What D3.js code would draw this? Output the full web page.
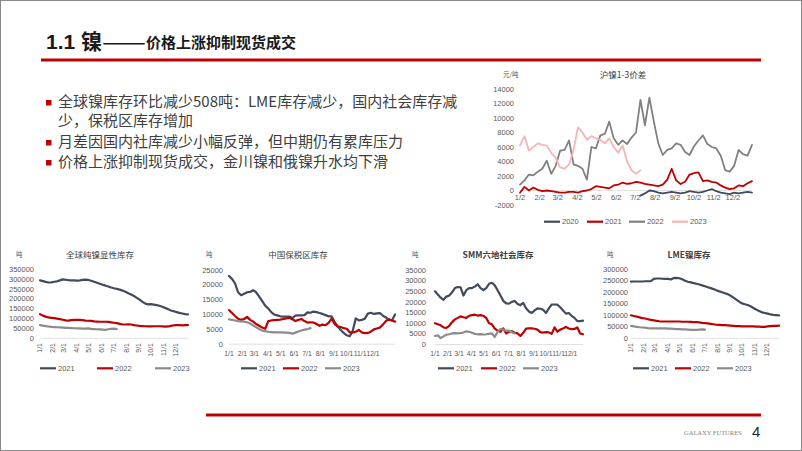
<!DOCTYPE html>
<html><head><meta charset="utf-8">
<script src="https://cdn.jsdelivr.net/npm/d3@7"></script>
<style>body{margin:0;background:#fff}svg{display:block}</style>
</head><body><svg id="c" width="802" height="451"></svg>
<script>
// ---------------- DATA ----------------
const titleMain = "1.1 镍";
const titleSub = "价格上涨抑制现货成交";
const bulletLines = [
  ["全球镍库存环比减少508吨：LME库存减少，国内社会库存减", true],
  ["少，保税区库存增加", false],
  ["月差因国内社库减少小幅反弹，但中期仍有累库压力", true],
  ["价格上涨抑制现货成交，金川镍和俄镍升水均下滑", true]
];
const years4 = ["2020", "2021", "2022", "2023"];
const years3 = ["2021", "2022", "2023"];
const spreadMonths = ["1/2","2/2","3/2","4/2","5/2","6/2","7/2","8/2","9/2","10/2","11/2","12/2"];
const invMonths = ["1/1","2/1","3/1","4/1","5/1","6/1","7/1","8/1","9/1","10/1","11/1","12/1"];

// 沪镍1-3价差 (weekly, 元/吨)
const spread2020 = [null,null,null,null,null,null,null,null,null,null,null,null,null,null,null,null,null,null,null,null,null,null,null,null,null,null,null,
  -700,-400,0,-100,-300,-400,-300,-200,-300,-400,-300,-100,-200,-300,-200,0,200,-100,-300,-400,-500,-300,-400,-300,-200,-300];
const spread2021 = [-300,500,0,400,100,-100,0,-100,-200,-300,-300,-200,-200,-300,-100,0,200,600,500,400,300,700,800,1100,900,1000,1200,1100,900,800,700,600,800,1500,3000,1400,900,1200,2200,2400,2500,1300,1400,1200,1100,700,400,200,300,700,600,1000,1300];
const spread2022 = [800,1400,2200,2100,2600,3000,4100,2300,3400,5500,5600,6900,3600,3400,3000,1500,6000,5800,7600,7800,9500,7200,6300,6900,6400,7300,8000,12500,9000,12800,9500,6500,4900,5600,5800,6500,6300,5300,4900,6100,6900,7600,6400,6000,5800,4800,2800,2600,3400,5600,5000,4800,6300];
const spread2023 = [6200,7500,5500,6000,6500,6300,6200,5200,4500,3200,3000,3600,5600,8700,8000,7000,7500,7200,7000,6500,7200,6000,5200,6200,4000,2800,2300,2800];

// 全球纯镍显性库存 (weekly, 吨)
const global2021 = [294000,290000,286000,283000,284000,287000,289000,294000,299000,297000,295000,294000,294000,293000,294000,296000,298000,296000,292000,287000,282000,277000,272000,267000,263000,258000,254000,251000,247000,242000,236000,229000,222000,215000,205000,196000,185000,176000,172000,173000,171000,168000,165000,160000,154000,148000,141000,137000,133000,129000,126000,123000,121000];
const global2022 = [122000,115000,110000,106000,104000,102000,100000,97000,94000,91000,90000,92000,93000,94000,93000,92000,90000,89000,88000,86000,85000,84000,84000,84000,83000,81000,79000,77000,73000,70000,70000,71000,70000,67000,65000,63000,62000,61000,60000,60000,61000,61000,61000,60000,59000,60000,63000,66000,67000,67000,66000,67000,67000];
const global2023 = [67000,64000,62000,60000,58000,57000,56000,55000,54000,53000,53000,52000,51000,50000,50000,49000,49000,50000,48000,47000,46000,45000,44000,43000,46000,48000,49000,47000];

// 中国保税区库存 (weekly, 吨)
const bonded2021 = [23000,22000,20500,17500,16500,17000,17500,17600,18200,17500,16000,14500,13000,12000,10800,10000,9700,9400,9300,9300,9300,8800,9600,9700,9700,9800,10700,10600,11000,10800,10500,10200,9800,9400,9400,7500,6000,4800,3800,3000,2700,4500,8700,8000,8200,8600,10300,10600,10200,10400,10500,9600,9000,8200,8000,10000];
const bonded2022 = [11500,10500,9500,8600,8200,8500,9200,8200,7600,6800,6200,5600,5200,7800,8000,8100,8200,8300,8500,8700,8900,8400,7800,8200,8500,7800,7300,7400,7300,6800,6200,6600,6400,7200,8600,6800,6000,5800,5400,5200,4000,4000,4200,4800,4000,3700,3800,4200,5000,5300,5600,6600,7800,8400,8000,7600];
const bonded2023 = [8400,8200,8000,7800,7700,7600,7400,7000,6300,5700,5100,4600,4400,4200,4100,4000,4000,4000,3900,3900,3800,3500,3900,4300,4600,4900,5100,5400];

// SMM六地社会库存 (weekly, 吨)
const smm2021 = [25000,23500,22000,21000,22500,23000,24500,26500,27000,26800,23000,25500,26500,26500,27200,28300,26500,25600,26500,28500,29000,27800,25500,23000,20500,19300,19200,20000,20500,19000,18500,19500,17000,15500,14800,16000,17000,16800,16300,14800,17000,18800,18800,18700,17500,16000,14500,14800,13500,12500,11000,11000,11200];
const smm2022 = [10000,9500,9000,8000,7800,8800,10500,11800,12500,13200,12800,12500,13500,13800,14000,13600,13800,13500,12500,10000,9500,7500,6500,6000,7600,5200,6000,6200,5500,5200,4000,5500,7500,7600,7600,7400,7000,5800,5600,5800,5700,5000,8000,6000,7000,7500,8300,7500,7200,7300,8000,5200,4800];
const smm2023 = [4000,4300,3000,3800,4600,4800,5200,5300,5200,5400,5600,6200,6000,5500,5000,4800,4900,4700,4800,5000,5200,3500,6000,7300,7000,6500,6500,5800,5200];

// LME镍库存 (weekly, 吨)
const lme2021 = [246000,247000,247000,247000,247000,248000,248000,249000,258000,260000,260000,259000,258000,258000,256000,262000,263000,261000,257000,250000,246000,243000,240000,237000,234000,230000,226000,222000,218000,214000,209000,204000,200000,196000,192000,185000,177000,168000,159000,152000,148000,145000,139000,132000,125000,119000,113000,110000,107000,104000,102000,101000,100000];
const lme2022 = [100000,97000,94000,91000,88000,86000,83000,80000,78000,76000,74000,73000,73000,73000,73000,73000,73000,73000,72000,72000,72000,71000,70000,70000,69000,67000,66000,65000,63000,61000,59000,58000,57000,57000,56000,55000,54000,53000,53000,52000,52000,52000,52000,52000,51000,51000,50000,50000,52000,53000,54000,54000,55000];
const lme2023 = [54000,52000,50000,48000,47000,46000,44000,43000,43000,43000,43000,43000,43000,42000,42000,41000,40000,40000,39000,39000,38000,37000,37000,37000,38000,39000,38000];

// ---------------- DRAWING ----------------
const svg = d3.select("#c");
const RED = "#c00000", DARK = "#414b5b", GRAY = "#8c8c8c", GRAY22 = "#808080", PINK = "#f6b4b6";
const SANS = "'Liberation Sans', Arial, 'Noto Sans CJK SC', sans-serif";
const CJK = "'Noto Sans CJK SC', 'Liberation Sans', sans-serif";
const LBL = "#595959";

svg.append("rect").attr("x",0.5).attr("y",0.5).attr("width",801).attr("height",450)
  .attr("fill","#fff").attr("stroke","#8a8a8a").attr("stroke-width",1);

// Title
svg.append("text").attr("x",46).attr("y",49).attr("font-family",SANS).attr("font-weight","bold")
  .attr("font-size",21).attr("fill","#1a1a1a").text(titleMain);
svg.append("text").attr("x",102).attr("y",48).attr("font-family",CJK).attr("font-weight","bold")
  .attr("font-size",15).attr("fill","#1a1a1a").attr("textLength",44).attr("lengthAdjust","spacingAndGlyphs").text("——");
svg.append("text").attr("x",146).attr("y",48).attr("font-family",CJK).attr("font-weight","bold")
  .attr("font-size",15).attr("fill","#1a1a1a").text(titleSub);
svg.append("rect").attr("x",41).attr("y",58.5).attr("width",720).attr("height",3).attr("fill",RED);

// Bullets
const bulletY = [107, 125.5, 147, 167];
bulletLines.forEach((b,i)=>{
  if (b[1]) svg.append("rect").attr("x",46).attr("y",bulletY[i]-7).attr("width",5.5).attr("height",5.5).attr("fill",RED);
  svg.append("text").attr("x",58).attr("y",bulletY[i]).attr("font-family",CJK).attr("font-size",15)
    .attr("fill","#404040").text(b[0]);
});

// Footer
svg.append("rect").attr("x",206).attr("y",413.5).attr("width",555).attr("height",3).attr("fill",RED);
svg.append("text").attr("x",684).attr("y",435).attr("font-family","'Liberation Serif', serif")
  .attr("font-size",6.5).attr("fill","#7f7f7f").text("GALAXY FUTURES");
svg.append("text").attr("x",752).attr("y",437).attr("font-family",SANS)
  .attr("font-size",15).attr("fill","#262626").text("4");

function doy(lbl){const p=lbl.split("/").map(Number);return (Date.UTC(2021,p[0]-1,p[1])-Date.UTC(2021,0,1))/864e5;}

function chart(o){
  const x = d3.scaleLinear().domain([0,o.weeks]).range([o.x0,o.x1]);
  const y = d3.scaleLinear().domain(o.yDomain).range([o.yBottom,o.yTop]);
  const g = svg.append("g");
  g.append("text").attr("x",o.unitX).attr("y",o.titleY-1).attr("font-family",CJK).attr("font-size",6.5)
    .attr("fill",LBL).text(o.unit);
  g.append("text").attr("x",o.titleX).attr("y",o.titleY).attr("text-anchor","middle")
    .attr("font-family",CJK).attr("font-size",o.titleSize||8.5).attr("font-weight",o.titleBold?"bold":"normal")
    .attr("fill","#404040").text(o.title);
  g.append("line").attr("x1",o.x0).attr("x2",o.x1).attr("y1",y(0)).attr("y2",y(0))
    .attr("stroke","#d9d9d9").attr("stroke-width",0.8);
  const ticks = d3.range(o.yDomain[0], o.yDomain[1]+1, o.yStep);
  g.selectAll("text.yt").data(ticks).join("text").attr("class","yt")
    .attr("x",o.yLabelX).attr("y",d=>y(d)).attr("dy","0.35em").attr("text-anchor","end")
    .attr("font-family",SANS).attr("font-size",7.5).attr("fill",LBL).text(d=>d);
  const xl = g.selectAll("text.xl").data(o.xLabels).join("text").attr("class","xl")
    .attr("font-family",SANS).attr("font-size",o.xFont||7).attr("fill",LBL).text(d=>d);
  const xp = d => x((doy(d)-o.startDoy)/7);
  if (o.rotate) {
    xl.attr("text-anchor","end").attr("dy","0.35em")
      .attr("transform",d=>`translate(${xp(d)},${o.xLabelY}) rotate(-90)`);
  } else {
    xl.attr("text-anchor","middle").attr("x",xp).attr("y",o.xLabelY);
  }
  const line = d3.line().defined(d=>d!=null).x((d,i)=>x(i)).y(d=>y(d)).curve(d3.curveLinear);
  o.series.forEach(s=>{
    g.append("path").datum(s.values).attr("d",line).attr("fill","none").attr("stroke",s.color)
      .attr("stroke-width",o.lineWidth).attr("stroke-linejoin","round").attr("stroke-linecap","round");
  });
  o.series.forEach((s,i)=>{
    const lx = o.legendX[i];
    g.append("line").attr("x1",lx).attr("x2",lx+16).attr("y1",o.legendY).attr("y2",o.legendY)
      .attr("stroke",s.color).attr("stroke-width",2.2);
    g.append("text").attr("x",lx+18).attr("y",o.legendY).attr("dy","0.35em").attr("font-family",SANS)
      .attr("font-size",7.5).attr("fill",LBL).text(s.name);
  });
}

// Top-right chart
chart({title:"沪镍1-3价差", titleX:623, titleY:78, titleSize:8.5, unit:"元/吨", unitX:503,
  x0:520, x1:752, weeks:52, yDomain:[-2000,14000], yStep:2000, yBottom:205, yTop:89, yLabelX:514,
  xLabels:spreadMonths, startDoy:1, xLabelY:200, rotate:false, xFont:7.5, lineWidth:1.8,
  legendX:[544,587,629,672], legendY:221.7,
  series:[{name:years4[0],values:spread2020,color:DARK},{name:years4[1],values:spread2021,color:RED},
          {name:years4[2],values:spread2022,color:GRAY22},{name:years4[3],values:spread2023,color:PINK}]});

// Bottom charts
chart({title:"全球纯镍显性库存", titleX:100, titleY:257.5, unit:"吨", unitX:16,
  x0:40, x1:188, weeks:52, yDomain:[0,350000], yStep:50000, yBottom:338.3, yTop:269.3, yLabelX:34,
  xLabels:invMonths, startDoy:0, xLabelY:343, rotate:true, lineWidth:2.2,
  legendX:[40,97,155], legendY:368.3,
  series:[{name:years3[0],values:global2021,color:DARK},{name:years3[1],values:global2022,color:RED},
          {name:years3[2],values:global2023,color:GRAY}]});

chart({title:"中国保税区库存", titleX:298, titleY:258, unit:"吨", unitX:206,
  x0:229, x1:395, weeks:55, yDomain:[0,25000], yStep:5000, yBottom:344.2, yTop:270, yLabelX:223,
  xLabels:invMonths, startDoy:0, xLabelY:356, rotate:false, xFont:6.8, lineWidth:2.2,
  legendX:[241,283,325], legendY:368.3,
  series:[{name:years3[0],values:bonded2021,color:DARK},{name:years3[1],values:bonded2022,color:RED},
          {name:years3[2],values:bonded2023,color:GRAY}]});

chart({title:"SMM六地社会库存", titleX:498, titleY:258, titleBold:true, unit:"吨", unitX:412,
  x0:435, x1:583, weeks:52, yDomain:[0,35000], yStep:5000, yBottom:344.5, yTop:270, yLabelX:426,
  xLabels:invMonths, startDoy:0, xLabelY:356, rotate:false, xFont:6.8, lineWidth:2.2,
  legendX:[438,481,523], legendY:368.3,
  series:[{name:years3[0],values:smm2021,color:DARK},{name:years3[1],values:smm2022,color:RED},
          {name:years3[2],values:smm2023,color:GRAY}]});

chart({title:"LME镍库存", titleX:689, titleY:258, titleBold:true, unit:"吨", unitX:607,
  x0:631, x1:779, weeks:52, yDomain:[0,300000], yStep:50000, yBottom:338.3, yTop:269.3, yLabelX:628,
  xLabels:invMonths, startDoy:0, xLabelY:343, rotate:true, lineWidth:2.2,
  legendX:[633,675,717], legendY:368.3,
  series:[{name:years3[0],values:lme2021,color:DARK},{name:years3[1],values:lme2022,color:RED},
          {name:years3[2],values:lme2023,color:GRAY}]});
</script></body></html>
